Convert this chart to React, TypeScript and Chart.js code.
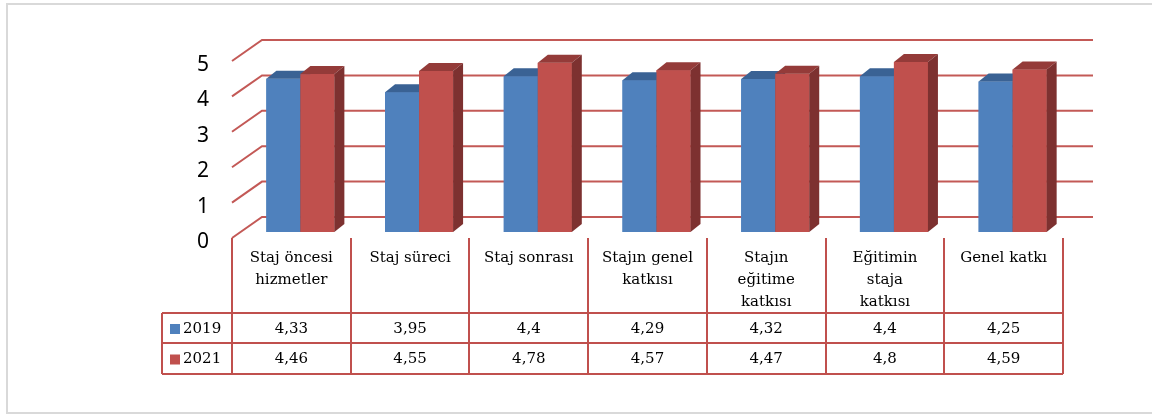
import React, { useEffect, useRef } from "react";
import { Chart, registerables } from "chart.js";

Chart.register(...registerables);

// ---- data ----
const categories: string[][] = [
  ["Staj öncesi", "hizmetler"],
  ["Staj süreci"],
  ["Staj sonrası"],
  ["Stajın genel", "katkısı"],
  ["Stajın", "eğitime", "katkısı"],
  ["Eğitimin", "staja", "katkısı"],
  ["Genel katkı"],
];
const seriesNames = ["2019", "2021"];
const values2019 = [4.33, 3.95, 4.4, 4.29, 4.32, 4.4, 4.25];
const values2021 = [4.46, 4.55, 4.78, 4.57, 4.47, 4.8, 4.59];
const yTicks = [0, 1, 2, 3, 4, 5];

// ---- style ----
const BLUE = "#4F81BD";
const RED = "#C0504D";
const TOPS = ["#3A6294", "#943B39"];
const SIDES = ["#2F4F78", "#7D3130"];
const GRID = "rgba(192,80,77,0.95)";
const SERIF = "'DejaVu Serif', serif";

// 3D geometry (relative to the bar plane)
const BAR_DX = 10, BAR_DY = -8; // bar depth
const FRONT_DX = -9, FRONT_DY = 6; // front plane offset
const BACK_DX = 21, BACK_DY = -15; // back wall offset

const fmt = (v: number) => String(v).replace(".", ",");

const threeD = {
  id: "threeD",
  beforeDraw(chart: any) {
    const ctx = chart.ctx;
    ctx.save();
    ctx.fillStyle = "#fff";
    ctx.fillRect(0, 0, chart.width, chart.height);
    ctx.strokeStyle = "#D9D9D9";
    ctx.lineWidth = 2;
    ctx.strokeRect(7, 4, chart.width + 20, 409);
    ctx.restore();
  },
  beforeDatasetsDraw(chart: any) {
    const ctx = chart.ctx;
    const { left, right } = chart.chartArea;
    const y = chart.scales.y;
    ctx.save();
    ctx.strokeStyle = GRID;
    ctx.lineWidth = 2;
    ctx.lineCap = "butt";
    for (const t of yTicks) {
      const py = y.getPixelForValue(t);
      ctx.beginPath();
      ctx.moveTo(left + FRONT_DX, py + FRONT_DY);
      ctx.lineTo(left + BACK_DX, py + BACK_DY);
      ctx.lineTo(right + BACK_DX, py + BACK_DY);
      ctx.stroke();
    }
    ctx.restore();
  },
  afterDatasetsDraw(chart: any) {
    const ctx = chart.ctx;
    const n = chart.data.labels.length;
    ctx.save();
    for (let i = 0; i < n; i++) {
      chart.data.datasets.forEach((ds: any, d: number) => {
        const el = chart.getDatasetMeta(d).data[i];
        const { x, y, base, width } = el.getProps(["x", "y", "base", "width"], true);
        const l = x - width / 2, r = x + width / 2;
        ctx.fillStyle = ds.backgroundColor;
        ctx.fillRect(l, y, width, base - y);
        ctx.fillStyle = TOPS[d];
        ctx.beginPath();
        ctx.moveTo(l, y);
        ctx.lineTo(l + BAR_DX, y + BAR_DY);
        ctx.lineTo(r + BAR_DX, y + BAR_DY);
        ctx.lineTo(r, y);
        ctx.closePath();
        ctx.fill();
        ctx.fillStyle = SIDES[d];
        ctx.beginPath();
        ctx.moveTo(r, y);
        ctx.lineTo(r + BAR_DX, y + BAR_DY);
        ctx.lineTo(r + BAR_DX, base + BAR_DY);
        ctx.lineTo(r, base);
        ctx.closePath();
        ctx.fill();
      });
    }
    ctx.restore();
  },
  afterDraw(chart: any) {
    const ctx = chart.ctx;
    const { left, right } = chart.chartArea;
    const y = chart.scales.y;
    const n = chart.data.labels.length;
    const x0 = left + FRONT_DX;
    const cw = (right - left) / n;
    const topY = y.getPixelForValue(0) + FRONT_DY;
    const r1 = 313, r2 = 343, r3 = 374;
    const legL = 162;
    const xEnd = x0 + n * cw;
    ctx.save();
    ctx.strokeStyle = RED;
    ctx.lineWidth = 2;
    // vertical lines
    for (let i = 0; i <= n; i++) {
      const px = Math.round(x0 + i * cw);
      ctx.beginPath();
      ctx.moveTo(px, topY);
      ctx.lineTo(px, r3);
      ctx.stroke();
    }
    ctx.beginPath();
    ctx.moveTo(legL, r1);
    ctx.lineTo(legL, r3);
    ctx.stroke();
    for (const ry of [r1, r2, r3]) {
      ctx.beginPath();
      ctx.moveTo(legL, ry);
      ctx.lineTo(xEnd, ry);
      ctx.stroke();
    }
    // header labels
    ctx.fillStyle = "#000";
    ctx.font = `15px ${SERIF}`;
    ctx.textAlign = "center";
    ctx.textBaseline = "middle";
    chart.data.labels.forEach((lab: string[], i: number) => {
      const cx = x0 + (i + 0.5) * cw;
      lab.forEach((line, k) => ctx.fillText(line, cx, 258 + k * 22));
    });
    // values
    const rowsY = [(r1 + r2) / 2 + 1, (r2 + r3) / 2 + 1];
    chart.data.datasets.forEach((ds: any, d: number) => {
      ds.data.forEach((v: number, i: number) => {
        ctx.fillText(fmt(v), x0 + (i + 0.5) * cw, rowsY[d]);
      });
      ctx.fillStyle = ds.backgroundColor;
      ctx.fillRect(170, rowsY[d] - 5, 10, 10);
      ctx.fillStyle = "#000";
      ctx.textAlign = "left";
      ctx.fillText(ds.label, 183, rowsY[d]);
      ctx.textAlign = "center";
    });
    ctx.restore();
  },
};

export default function App() {
  const ref = useRef<HTMLCanvasElement>(null);
  useEffect(() => {
    if (!ref.current) return;
    const chart = new Chart(ref.current, {
      type: "bar",
      data: {
        labels: categories as any,
        datasets: [
          { label: seriesNames[0], data: values2019, backgroundColor: BLUE },
          { label: seriesNames[1], data: values2021, backgroundColor: RED },
        ],
      },
      options: {
        animation: false,
        responsive: false,
        events: [],
        layout: { padding: { left: 0, top: 55, right: 80, bottom: 183 } },
        datasets: { bar: { categoryPercentage: 0.573, barPercentage: 1.0 } },
        plugins: { legend: { display: false }, tooltip: { enabled: false } },
        scales: {
          x: { display: false },
          y: {
            min: 0,
            max: 5,
            afterFit: (s: any) => { s.width = 241; },
            afterBuildTicks: (s: any) => { s.ticks = yTicks.map((v) => ({ value: v })); },
            grid: { display: false, drawTicks: false },
            border: { display: false },
            ticks: {
              padding: 32,
              labelOffset: 10,
              color: "#000",
              font: { family: "'Noto Sans', sans-serif", size: 21 },
            },
          },
        },
      },
      plugins: [threeD],
    });
    return () => chart.destroy();
  }, []);
  return (
    <div style={{ position: "fixed", left: 0, top: 0, width: 1152, height: 415, background: "#fff" }}>
      <canvas ref={ref} width={1152} height={415} />
    </div>
  );
}
